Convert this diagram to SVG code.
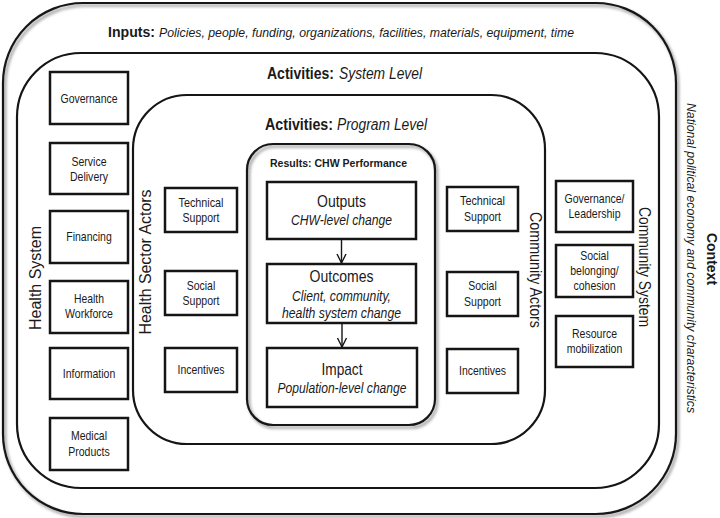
<svg xmlns="http://www.w3.org/2000/svg" width="720" height="518" viewBox="0 0 720 518">
<defs>
<style>
.ln{fill:none;stroke:#151515;stroke-width:2.2}
.bx{fill:#fff;stroke:#151515;stroke-width:2.5}
.t{font-family:"Liberation Sans Narrow","Liberation Sans",Arial,sans-serif;fill:#1a1a1a}
.bt{font-size:13.5px;text-anchor:middle}
.b{font-weight:bold}
.i{font-style:italic}
.m{text-anchor:middle}
.ar{fill:none;stroke:#151515;stroke-width:1.4}
</style>
<filter id="sh" x="-5%" y="-5%" width="112%" height="112%">
<feDropShadow dx="2" dy="2.5" stdDeviation="1.6" flood-color="#000" flood-opacity="0.45"/>
</filter>
<marker id="ah" markerWidth="12" markerHeight="12" refX="10" refY="6" orient="auto" markerUnits="userSpaceOnUse">
<path d="M1,1.5 L10,6 L1,10.5" fill="none" stroke="#151515" stroke-width="1.4"/>
</marker>
</defs>
<rect width="720" height="518" fill="#fff"/>

<g id="context">
<rect class="ln" x="3" y="3" width="673" height="511" rx="80" ry="80" fill="#fff" filter="url(#sh)"/>
<text class="t b m" font-size="14" transform="translate(707,259) rotate(90)">Context</text>
<text class="t i m" font-size="13" textLength="310" lengthAdjust="spacingAndGlyphs" transform="translate(687,258) rotate(90)">National political economy and community characteristics</text>
</g>

<g id="inputs">
<text class="t b" x="108" y="37" font-size="15" textLength="47" lengthAdjust="spacingAndGlyphs">Inputs:</text>
<text class="t i" x="159" y="37" font-size="13.5" textLength="415" lengthAdjust="spacingAndGlyphs">Policies, people, funding, organizations, facilities, materials, equipment, time</text>
</g>

<g id="system-level">
<rect class="ln" x="17" y="53" width="642" height="435" rx="64" ry="64"/>
<text class="t b" x="267" y="79" font-size="16" textLength="67" lengthAdjust="spacingAndGlyphs">Activities:</text>
<text class="t i" x="339" y="79" font-size="16" textLength="83" lengthAdjust="spacingAndGlyphs">System Level</text>
<text class="t m" font-size="16" textLength="104" lengthAdjust="spacingAndGlyphs" transform="translate(41,278) rotate(-90)">Health System</text>
<text class="t m" font-size="16" textLength="120" lengthAdjust="spacingAndGlyphs" transform="translate(639,267) rotate(90)">Community System</text>
</g>

<g id="program-level">
<rect class="ln" x="133" y="95" width="412" height="349" rx="54" ry="54"/>
<text class="t b" x="265" y="130" font-size="16" textLength="68" lengthAdjust="spacingAndGlyphs">Activities:</text>
<text class="t i" x="337" y="130" font-size="16" textLength="90" lengthAdjust="spacingAndGlyphs">Program Level</text>
<text class="t m" font-size="16" textLength="145" lengthAdjust="spacingAndGlyphs" transform="translate(151,262) rotate(-90)">Health Sector Actors</text>
<text class="t m" font-size="16" textLength="116" lengthAdjust="spacingAndGlyphs" transform="translate(530,270) rotate(90)">Community Actors</text>
</g>

<g id="results">
<rect class="ln" x="247" y="144" width="188" height="281" rx="26" ry="26" fill="#fff" filter="url(#sh)"/>
<text class="t b" x="270" y="167" font-size="11.5" textLength="137" lengthAdjust="spacingAndGlyphs">Results: CHW Performance</text>
</g>

<g id="outputs">
<rect class="bx" x="267" y="182" width="149" height="57"/>
<text class="t m" x="341.5" y="207" font-size="17" textLength="49" lengthAdjust="spacingAndGlyphs">Outputs</text>
<text class="t i m" x="341.5" y="225" font-size="14" textLength="101" lengthAdjust="spacingAndGlyphs">CHW-level change</text>
</g>
<g id="outcomes">
<rect class="bx" x="267" y="264" width="149" height="59"/>
<text class="t m" x="341.5" y="282" font-size="17" textLength="64" lengthAdjust="spacingAndGlyphs">Outcomes</text>
<text class="t i m" x="341.5" y="301" font-size="14" textLength="99" lengthAdjust="spacingAndGlyphs">Client, community,</text>
<text class="t i m" x="341.5" y="318" font-size="14" textLength="119" lengthAdjust="spacingAndGlyphs">health system change</text>
</g>
<g id="impact">
<rect class="bx" x="267" y="348" width="150" height="59"/>
<text class="t m" x="342" y="375" font-size="17" textLength="41" lengthAdjust="spacingAndGlyphs">Impact</text>
<text class="t i m" x="342" y="393" font-size="14" textLength="129" lengthAdjust="spacingAndGlyphs">Population-level change</text>
</g>

<g id="health-system">
<g id="hs-governance"><rect class="bx" x="50" y="72" width="78" height="52"/><text class="t bt" x="89" y="103" textLength="57" lengthAdjust="spacingAndGlyphs">Governance</text></g>
<g id="hs-service-delivery"><rect class="bx" x="50" y="143" width="78" height="51"/><text class="t bt" x="89" y="166" textLength="35" lengthAdjust="spacingAndGlyphs">Service</text><text class="t bt" x="89" y="181" textLength="38" lengthAdjust="spacingAndGlyphs">Delivery</text></g>
<g id="hs-financing"><rect class="bx" x="50" y="211" width="78" height="52"/><text class="t bt" x="89" y="241" textLength="45.5" lengthAdjust="spacingAndGlyphs">Financing</text></g>
<g id="hs-workforce"><rect class="bx" x="50" y="281" width="78" height="52"/><text class="t bt" x="89" y="303" textLength="30" lengthAdjust="spacingAndGlyphs">Health</text><text class="t bt" x="89" y="318" textLength="48" lengthAdjust="spacingAndGlyphs">Workforce</text></g>
<g id="hs-information"><rect class="bx" x="50" y="348" width="78" height="51"/><text class="t bt" x="89" y="378" textLength="52.5" lengthAdjust="spacingAndGlyphs">Information</text></g>
<g id="hs-medical-products"><rect class="bx" x="50" y="418" width="78" height="52"/><text class="t bt" x="89" y="440" textLength="36" lengthAdjust="spacingAndGlyphs">Medical</text><text class="t bt" x="89" y="456" textLength="41.5" lengthAdjust="spacingAndGlyphs">Products</text></g>
</g>

<g id="health-sector-actors">
<g id="hsa-technical"><rect class="bx" x="165" y="188" width="72" height="44"/><text class="t bt" x="201" y="207" textLength="45" lengthAdjust="spacingAndGlyphs">Technical</text><text class="t bt" x="201" y="222" textLength="37" lengthAdjust="spacingAndGlyphs">Support</text></g>
<g id="hsa-social"><rect class="bx" x="165" y="271" width="72" height="44"/><text class="t bt" x="201" y="290" textLength="28.6" lengthAdjust="spacingAndGlyphs">Social</text><text class="t bt" x="201" y="305" textLength="37" lengthAdjust="spacingAndGlyphs">Support</text></g>
<g id="hsa-incentives"><rect class="bx" x="165" y="348" width="72" height="44"/><text class="t bt" x="201" y="374" textLength="47" lengthAdjust="spacingAndGlyphs">Incentives</text></g>
</g>

<g id="community-actors">
<g id="ca-technical"><rect class="bx" x="447" y="187" width="71" height="44"/><text class="t bt" x="482.5" y="205" textLength="45" lengthAdjust="spacingAndGlyphs">Technical</text><text class="t bt" x="482.5" y="221" textLength="37" lengthAdjust="spacingAndGlyphs">Support</text></g>
<g id="ca-social"><rect class="bx" x="447" y="272" width="71" height="44"/><text class="t bt" x="482.5" y="290" textLength="28.6" lengthAdjust="spacingAndGlyphs">Social</text><text class="t bt" x="482.5" y="306" textLength="37" lengthAdjust="spacingAndGlyphs">Support</text></g>
<g id="ca-incentives"><rect class="bx" x="447" y="349" width="71" height="44"/><text class="t bt" x="482.5" y="375" textLength="47" lengthAdjust="spacingAndGlyphs">Incentives</text></g>
</g>

<g id="community-system">
<g id="cs-governance"><rect class="bx" x="556" y="181" width="77" height="51"/><text class="t bt" x="594.5" y="203" textLength="60" lengthAdjust="spacingAndGlyphs">Governance/</text><text class="t bt" x="594.5" y="218" textLength="52" lengthAdjust="spacingAndGlyphs">Leadership</text></g>
<g id="cs-social"><rect class="bx" x="556" y="245" width="77" height="52"/><text class="t bt" x="594.5" y="260" textLength="28.6" lengthAdjust="spacingAndGlyphs">Social</text><text class="t bt" x="594.5" y="275" textLength="48.5" lengthAdjust="spacingAndGlyphs">belonging/</text><text class="t bt" x="594.5" y="290" textLength="42" lengthAdjust="spacingAndGlyphs">cohesion</text></g>
<g id="cs-resource"><rect class="bx" x="556" y="316" width="77" height="51"/><text class="t bt" x="594.5" y="338" textLength="45" lengthAdjust="spacingAndGlyphs">Resource</text><text class="t bt" x="594.5" y="353" textLength="55.5" lengthAdjust="spacingAndGlyphs">mobilization</text></g>
</g>

<g id="connectors">
<line class="ar" x1="341.5" y1="240" x2="341.5" y2="263" marker-end="url(#ah)"/>
<line class="ar" x1="342" y1="324" x2="342" y2="347" marker-end="url(#ah)"/>
</g>
</svg>
